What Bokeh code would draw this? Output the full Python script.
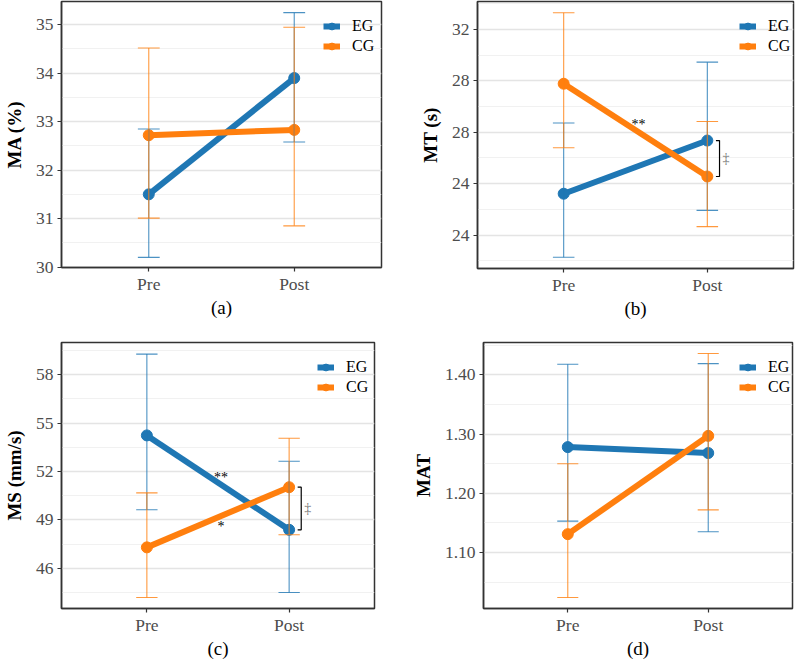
from bokeh.plotting import figure
from bokeh.layouts import column, row
from bokeh.models import FixedTicker, Range1d, Legend, LegendItem
from bokeh.core.properties import value
from bokeh.embed import file_html
from bokeh.resources import INLINE

# Time points
phases = ["Pre", "Post"]
xpos = [1, 2]

# (a) MA (%)
ma_eg = [31.50, 33.90]
ma_eg_lo = [30.20, 32.58]
ma_eg_hi = [32.85, 35.25]
ma_cg = [32.72, 32.83]
ma_cg_lo = [31.01, 30.85]
ma_cg_hi = [34.52, 34.95]

# (b) MT (s)
mt_eg = [25.61, 27.68]
mt_eg_lo = [23.14, 24.96]
mt_eg_hi = [28.36, 30.73]
mt_cg = [29.89, 26.28]
mt_cg_lo = [27.40, 24.33]
mt_cg_hi = [32.65, 28.42]
mt_ticks = [24, 26, 28, 30, 32]
mt_tick_labels = ["24", "24", "28", "28", "32"]

# (c) MS (mm/s)
ms_eg = [54.24, 48.39]
ms_eg_lo = [49.63, 44.50]
ms_eg_hi = [59.28, 52.64]
ms_cg = [47.30, 51.03]
ms_cg_lo = [44.19, 48.08]
ms_cg_hi = [50.68, 54.06]

# (d) MAT
mat_eg = [1.278, 1.268]
mat_eg_lo = [1.153, 1.135]
mat_eg_hi = [1.418, 1.419]
mat_cg = [1.131, 1.297]
mat_cg_lo = [1.024, 1.172]
mat_cg_hi = [1.250, 1.436]

EG_COLOR = "#1f77b4"
CG_COLOR = "#ff7f0e"
FONT = "Liberation Serif"
CAP = 0.075


def panel(width, height, borders, yrange, ticks, minor, labels, ylabel, xlabel,
          eg, eg_lo, eg_hi, cg, cg_lo, cg_hi, legend_loc):
    left, right, top, bottom = borders
    p = figure(width=width, height=height, output_backend="svg", toolbar_location=None,
               x_range=Range1d(0.4, 2.6), y_range=Range1d(*yrange),
               frame_width=width - left - right, frame_height=height - top - bottom,
               min_border_left=left, min_border_right=right,
               min_border_top=top, min_border_bottom=bottom)
    p.background_fill_color = "white"
    p.border_fill_color = "white"
    p.outline_line_color = "#333333"
    p.outline_line_width = 1.5

    p.xgrid.visible = False
    p.ygrid.ticker = FixedTicker(ticks=ticks, minor_ticks=minor)
    p.ygrid.grid_line_color = "#e4e4e4"
    p.ygrid.grid_line_width = 1.4
    p.ygrid.minor_grid_line_color = "#efefef"
    p.ygrid.minor_grid_line_width = 0.9

    p.xaxis.ticker = FixedTicker(ticks=xpos)
    p.xaxis.major_label_overrides = {x: lab for x, lab in zip(xpos, phases)}
    p.yaxis.ticker = FixedTicker(ticks=ticks, minor_ticks=[])
    p.yaxis.major_label_overrides = {t: lab for t, lab in zip(ticks, labels)}

    for ax in (p.xaxis[0], p.yaxis[0]):
        ax.axis_line_color = "#333333"
        ax.axis_line_width = 1.5
        ax.major_tick_line_color = "#333333"
        ax.major_tick_line_width = 1.2
        ax.major_tick_out = 4
        ax.major_tick_in = 0
        ax.minor_tick_line_color = None
        ax.major_label_text_font = FONT
        ax.major_label_text_font_size = "17.5px"
        ax.major_label_text_color = "#4d4d4d"
        ax.axis_label_text_font = FONT
        ax.axis_label_text_color = "black"

    p.yaxis.major_label_standoff = 4
    p.yaxis.axis_label = ylabel
    p.yaxis.axis_label_text_font_style = "bold"
    p.yaxis.axis_label_text_font_size = "19px"
    p.yaxis.axis_label_standoff = 8
    p.xaxis.major_label_standoff = 2
    p.xaxis.axis_label = xlabel
    p.xaxis.axis_label_text_font_style = "normal"
    p.xaxis.axis_label_text_font_size = "19px"
    p.xaxis.axis_label_standoff = 0

    items = []
    series = [("EG", EG_COLOR, eg, eg_lo, eg_hi), ("CG", CG_COLOR, cg, cg_lo, cg_hi)]
    for name, color, m, lo, hi in series:
        ln = p.line(xpos, m, line_color=color, line_width=6)
        pt = p.scatter(xpos, m, size=11, fill_color=color, line_color=color)
        items.append(LegendItem(label=name, renderers=[ln, pt]))
    for name, color, m, lo, hi in series:
        p.segment(x0=xpos, y0=lo, x1=xpos, y1=hi, line_color=color, line_width=1.1, line_alpha=0.8)
        p.segment(x0=[x - CAP for x in xpos], y0=lo, x1=[x + CAP for x in xpos], y1=lo,
                  line_color=color, line_width=1.1, line_alpha=0.8)
        p.segment(x0=[x - CAP for x in xpos], y0=hi, x1=[x + CAP for x in xpos], y1=hi,
                  line_color=color, line_width=1.1, line_alpha=0.8)

    leg = Legend(items=items, location=legend_loc, orientation="vertical")
    leg.border_line_color = None
    leg.background_fill_alpha = 0
    leg.padding = 0
    leg.margin = 0
    leg.spacing = 0
    leg.glyph_width = 17
    leg.glyph_height = 20
    leg.label_height = 20
    leg.label_width = 28
    leg.label_standoff = 12
    leg.label_text_font = FONT
    leg.label_text_font_size = "16px"
    leg.label_text_color = "black"
    p.add_layout(leg, "center")
    return p


def bracket(p, y_a, y_b, x_line=2.085, x_tip=2.06, x_mark=2.13):
    # significance bracket between the two groups at Post
    p.line([x_tip, x_line, x_line, x_tip], [y_a, y_a, y_b, y_b],
           line_color="black", line_width=1.2)
    p.text(x=[x_mark], y=[(y_a + y_b) / 2], text=["\u2021"], text_font=value(FONT),
           text_font_size="14px", text_color="#777777", text_align="center",
           text_baseline="middle")


def stars(p, m, label, dy):
    p.text(x=[1.5], y=[(m[0] + m[1]) / 2], text=[label], text_font=value(FONT),
           text_font_size="14px", text_color="black", text_align="center",
           text_baseline="middle", x_offset=3, y_offset=dy)


pa = panel(398, 329, (60, 18, 1, 62), (29.99, 35.48),
           [30, 31, 32, 33, 34, 35], [30.5, 31.5, 32.5, 33.5, 34.5, 35.5],
           ["30", "31", "32", "33", "34", "35"], "MA (%)", "(a)",
           ma_eg, ma_eg_lo, ma_eg_hi, ma_cg, ma_cg_lo, ma_cg_hi, (262, 211))

pb = panel(399, 329, (78, 5, 1, 61), (22.70, 33.09),
           mt_ticks, [23, 25, 27, 29, 31, 33], mt_tick_labels, "MT (s)", "(b)",
           mt_eg, mt_eg_lo, mt_eg_hi, mt_cg, mt_cg_lo, mt_cg_hi, (262, 212))
stars(pb, mt_cg, "**", -6)
bracket(pb, mt_eg[1], mt_cg[1])

pc = panel(398, 330, (60, 25, 13, 51), (43.51, 60.0),
           [46, 49, 52, 55, 58], [44.5, 47.5, 50.5, 53.5, 56.5, 59.5],
           ["46", "49", "52", "55", "58"], "MS (mm/s)", "(c)",
           ms_eg, ms_eg_lo, ms_eg_hi, ms_cg, ms_cg_lo, ms_cg_hi, (256, 211))
stars(pc, ms_eg, "**", -5)
stars(pc, ms_cg, "*", 9)
bracket(pc, ms_cg[1], ms_eg[1])

pd = panel(399, 330, (84, 6, 13, 51), (1.0054, 1.4547),
           [1.10, 1.20, 1.30, 1.40], [1.05, 1.15, 1.25, 1.35, 1.45],
           ["1.10", "1.20", "1.30", "1.40"], "MAT", "(d)",
           mat_eg, mat_eg_lo, mat_eg_hi, mat_cg, mat_cg_lo, mat_cg_hi, (256, 211))

layout = column(row(pa, pb, spacing=0), row(pc, pd, spacing=0), spacing=0)

with open("out.html", "w") as f:
    f.write(file_html(layout, INLINE))
